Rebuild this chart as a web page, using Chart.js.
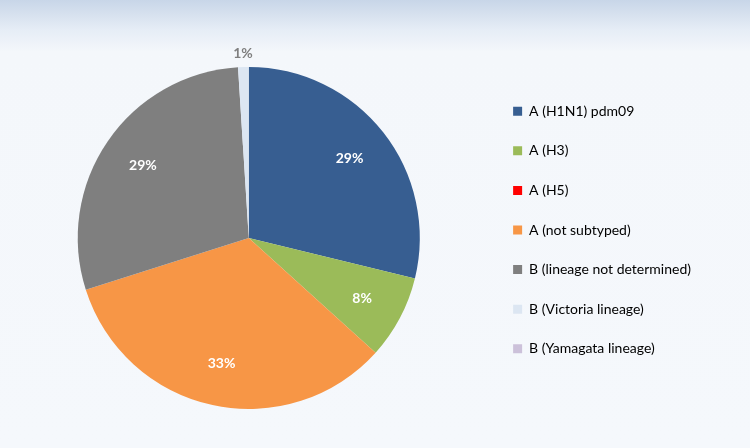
<!DOCTYPE html>
<html>
<head>
<meta charset="utf-8">
<script src="https://cdn.jsdelivr.net/npm/chart.js@4/dist/chart.umd.min.js"></script>
<style>
  html, body { margin: 0; padding: 0; }
  body {
    width: 750px; height: 448px; overflow: hidden;
    background: linear-gradient(to bottom, #c8d6e8 0px, #e6edf6 30px, #f4f7fb 52px, #f5f8fc 448px);
  }
  #wrap { position: absolute; left: 0; top: 0; width: 750px; height: 448px; }
</style>
</head>
<body>
<div id="wrap"><canvas id="pieChart"></canvas></div>
<script>
// virus type shares, percent of specimens
const labels = ['A (H1N1) pdm09', 'A (H3)', 'A (H5)', 'A (not subtyped)',
                'B (lineage not determined)', 'B (Victoria lineage)', 'B (Yamagata lineage)'];
const shares = [28.8, 7.9, 0, 33.4, 28.9, 1.0, 0];
const colors = ['#375e91', '#9bbb59', '#ff0000', '#f79646', '#7f7f7f', '#dce6f2', '#ccc1da'];

// slice labels: white inside, grey outside for tiny slices
const sliceLabels = {
  id: 'sliceLabels',
  afterDatasetsDraw(chart) {
    const ctx = chart.ctx;
    const meta = chart.getDatasetMeta(0);
    ctx.save();
    ctx.font = 'bold 14px Lato, "Open Sans", sans-serif';
    ctx.textAlign = 'center';
    ctx.textBaseline = 'middle';
    meta.data.forEach((arc, i) => {
      const v = shares[i];
      if (!v) return;
      const mid = (arc.startAngle + arc.endAngle) / 2;
      const small = v < 3;
      const r = arc.outerRadius * (small ? 1.08 : 0.75);
      ctx.fillStyle = small ? '#7f7f7f' : '#ffffff';
      ctx.fillText(Math.round(v) + '%', arc.x + Math.cos(mid) * r, arc.y + Math.sin(mid) * r);
    });
    ctx.restore();
  }
};

// nudge the legend up a little, like the original
const legendShift = {
  id: 'legendShift',
  afterLayout(chart) {
    chart.legend.top -= 8;
    chart.legend.bottom -= 8;
  }
};

new Chart(document.getElementById('pieChart'), {
  type: 'pie',
  data: {
    labels: labels,
    datasets: [{
      data: shares,
      backgroundColor: colors,
      borderWidth: 0
    }]
  },
  options: {
    responsive: true,
    maintainAspectRatio: false,
    animation: false,
    layout: { padding: { top: 67, bottom: 39, left: 10, right: 49 } },
    plugins: {
      tooltip: { enabled: false },
      legend: {
        position: 'right',
        labels: {
          boxWidth: 9,
          boxHeight: 9,
          padding: 25.6,
          color: '#000000',
          font: { family: 'Lato, "Open Sans", sans-serif', size: 14 }
        }
      }
    }
  },
  plugins: [sliceLabels, legendShift]
});
</script>
</body>
</html>
